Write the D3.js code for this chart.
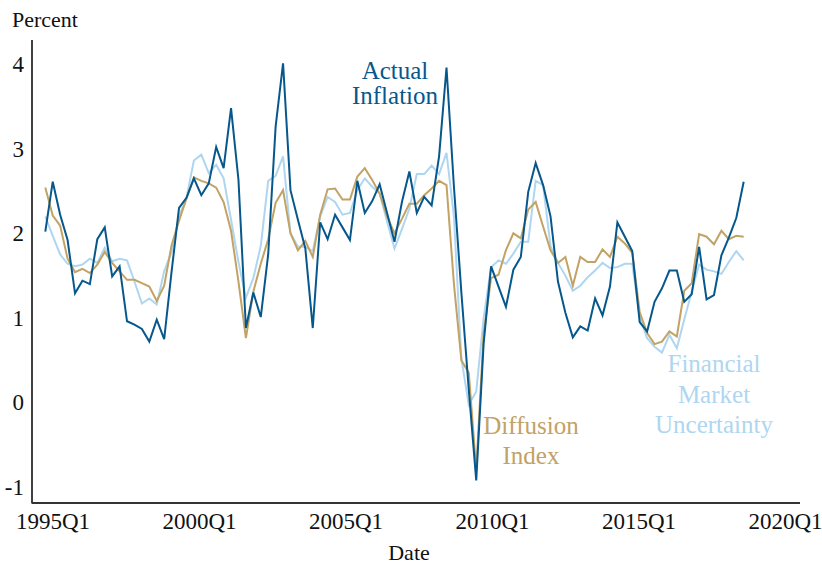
<!DOCTYPE html>
<html>
<head>
<meta charset="utf-8">
<script src="https://cdn.jsdelivr.net/npm/d3@7"></script>
<style>
  html, body { margin: 0; padding: 0; background: #fff; }
  svg { display: block; }
  text { font-family: "Liberation Serif", "Times New Roman", Times, serif; }
</style>
</head>
<body>
<svg id="chart" width="822" height="565"></svg>
<script>
// ---- Data ----
const startYear = 1995;
const quarters = [];
for (let i = 0; i < 95; i++) {
  const y = startYear + Math.floor(i / 4);
  quarters.push(y + "Q" + ((i % 4) + 1));
}

const actualInflation = [
  2.02, 2.61, 2.22, 1.92, 1.29, 1.44, 1.40, 1.93, 2.07, 1.49,
  1.61, 0.96, 0.92, 0.87, 0.72, 0.98, 0.75, 1.55, 2.30, 2.42,
  2.65, 2.45, 2.59, 3.02, 2.77, 3.48, 2.63, 0.88, 1.30, 1.01,
  1.75, 3.26, 4.01, 2.51, 2.16, 1.82, 0.88, 2.13, 1.93, 2.22,
  2.07, 1.92, 2.62, 2.24, 2.38, 2.58, 2.24, 1.90, 2.37, 2.73,
  2.24, 2.43, 2.33, 2.91, 3.96, 2.55, 1.30, 0.15, -0.92, 0.70,
  1.61, 1.37, 1.13, 1.57, 1.72, 2.49, 2.83, 2.57, 2.20, 1.43,
  1.06, 0.77, 0.90, 0.85, 1.23, 1.03, 1.37, 2.13, 1.96, 1.79,
  0.95, 0.84, 1.19, 1.35, 1.56, 1.56, 1.19, 1.28, 1.84, 1.22,
  1.27, 1.74, 1.95, 2.18, 2.61
];

const diffusionIndex = [
  2.54, 2.21, 2.09, 1.70, 1.54, 1.58, 1.53, 1.63, 1.78, 1.65,
  1.55, 1.45, 1.45, 1.41, 1.37, 1.20, 1.38, 1.86, 2.15, 2.41,
  2.66, 2.62, 2.59, 2.54, 2.37, 2.03, 1.43, 0.76, 1.31, 1.64,
  1.93, 2.36, 2.51, 2.00, 1.80, 1.91, 1.72, 2.22, 2.52, 2.53,
  2.40, 2.40, 2.67, 2.77, 2.63, 2.47, 2.20, 2.00, 2.17, 2.35,
  2.35, 2.45, 2.53, 2.62, 2.57, 1.40, 0.50, 0.35, -0.80, 0.82,
  1.47, 1.51, 1.80, 2.00, 1.94, 2.28, 2.37, 2.08, 1.80, 1.65,
  1.72, 1.38, 1.72, 1.66, 1.66, 1.81, 1.72, 1.96, 1.88, 1.77,
  1.07, 0.82, 0.69, 0.72, 0.84, 0.78, 1.32, 1.41, 1.99, 1.96,
  1.87, 2.03, 1.93, 1.97, 1.96
];

const financialUncertainty = [
  2.20, 1.97, 1.75, 1.64, 1.61, 1.63, 1.70, 1.65, 1.83, 1.67,
  1.70, 1.68, 1.43, 1.17, 1.23, 1.16, 1.55, 1.78, 2.20, 2.42,
  2.86, 2.93, 2.71, 2.81, 2.65, 2.16, 1.66, 1.24, 1.47, 1.85,
  2.62, 2.68, 2.91, 2.00, 1.84, 1.84, 1.79, 2.20, 2.43, 2.37,
  2.22, 2.24, 2.51, 2.65, 2.55, 2.47, 2.14, 1.82, 2.05, 2.29,
  2.70, 2.70, 2.80, 2.70, 2.95, 2.20, 0.52, -0.03, 0.13, 1.00,
  1.60, 1.68, 1.64, 1.76, 1.90, 1.90, 2.62, 2.57, 1.85, 1.65,
  1.50, 1.32, 1.38, 1.48, 1.56, 1.65, 1.59, 1.60, 1.64, 1.64,
  1.01, 0.76, 0.66, 0.59, 0.80, 0.64, 0.98, 1.31, 1.63, 1.57,
  1.55, 1.52, 1.66, 1.79, 1.68
];

const yTicks = [-1, 0, 1, 2, 3, 4];
const xTickYears = [1995, 2000, 2005, 2010, 2015, 2020];
const xTickLabels = ["1995Q1", "2000Q1", "2005Q1", "2010Q1", "2015Q1", "2020Q1"];

const seriesNames = ["Financial Market Uncertainty", "Diffusion Index", "Actual Inflation"];
const seriesColors = ["#aed6f1", "#c2a265", "#06588c"];

// ---- Chart ----
const svg = d3.select("#chart");

const x = d3.scalePoint().domain(quarters).range([45.3, 743.7]);
const xAxisScale = d3.scaleLinear().domain([1995, 2020]).range([52.5, 785]);
const y = d3.scaleLinear().domain([-1, 4]).range([487.1, 64.1]);

const axisLeftX = 32, axisBottomY = 503;

// axes lines
svg.append("line").attr("x1", axisLeftX).attr("x2", axisLeftX)
  .attr("y1", 40).attr("y2", axisBottomY + 0.5)
  .attr("stroke", "#111").attr("stroke-width", 1.6);
svg.append("line").attr("x1", axisLeftX).attr("x2", 800)
  .attr("y1", axisBottomY).attr("y2", axisBottomY)
  .attr("stroke", "#333").attr("stroke-width", 1.8);

// y axis ticks
const yAxis = svg.append("g")
  .attr("transform", `translate(${axisLeftX},0)`)
  .call(d3.axisLeft(y).tickValues(yTicks).tickSize(0).tickPadding(8)
    .tickFormat(d => d3.format("d")(d).replace("−", "-")));
yAxis.select(".domain").remove();
yAxis.selectAll("text")
  .attr("font-size", 23).attr("fill", "#111")
  .style("font-family", '"Liberation Serif", "Times New Roman", serif');

// x axis ticks
const xAxis = svg.append("g")
  .attr("transform", `translate(0,${axisBottomY})`)
  .call(d3.axisBottom(xAxisScale).tickValues(xTickYears).tickSize(0).tickPadding(10)
    .tickFormat((d, i) => xTickLabels[i]));
xAxis.select(".domain").remove();
xAxis.selectAll("text")
  .attr("font-size", 23).attr("fill", "#111")
  .style("font-family", '"Liberation Serif", "Times New Roman", serif');

// axis titles
svg.append("text").attr("x", 12).attr("y", 27)
  .attr("font-size", 22).attr("fill", "#111").text("Percent");
svg.append("text").attr("x", 409).attr("y", 560)
  .attr("text-anchor", "middle")
  .attr("font-size", 22).attr("fill", "#111").text("Date");

// series lines
const allSeries = [financialUncertainty, diffusionIndex, actualInflation];
const line = d3.line()
  .x((d, i) => x(quarters[i]))
  .y(d => y(d));

allSeries.forEach((vals, k) => {
  svg.append("path")
    .datum(vals)
    .attr("fill", "none")
    .attr("stroke", seriesColors[k])
    .attr("stroke-width", 2)
    .attr("stroke-linejoin", "miter")
    .attr("d", line);
});

// direct labels
const labels = [
  { lines: ["Actual", "Inflation"], x: 395, y: [79, 104], color: seriesColors[2] },
  { lines: ["Diffusion", "Index"], x: 531, y: [434, 464], color: seriesColors[1] },
  { lines: ["Financial", "Market", "Uncertainty"], x: 714, y: [372, 403, 433], color: seriesColors[0] }
];
labels.forEach(l => {
  l.lines.forEach((t, i) => {
    svg.append("text")
      .attr("x", l.x).attr("y", l.y[i])
      .attr("text-anchor", "middle")
      .attr("font-size", 25)
      .attr("fill", l.color)
      .text(t);
  });
});
</script>
</body>
</html>
